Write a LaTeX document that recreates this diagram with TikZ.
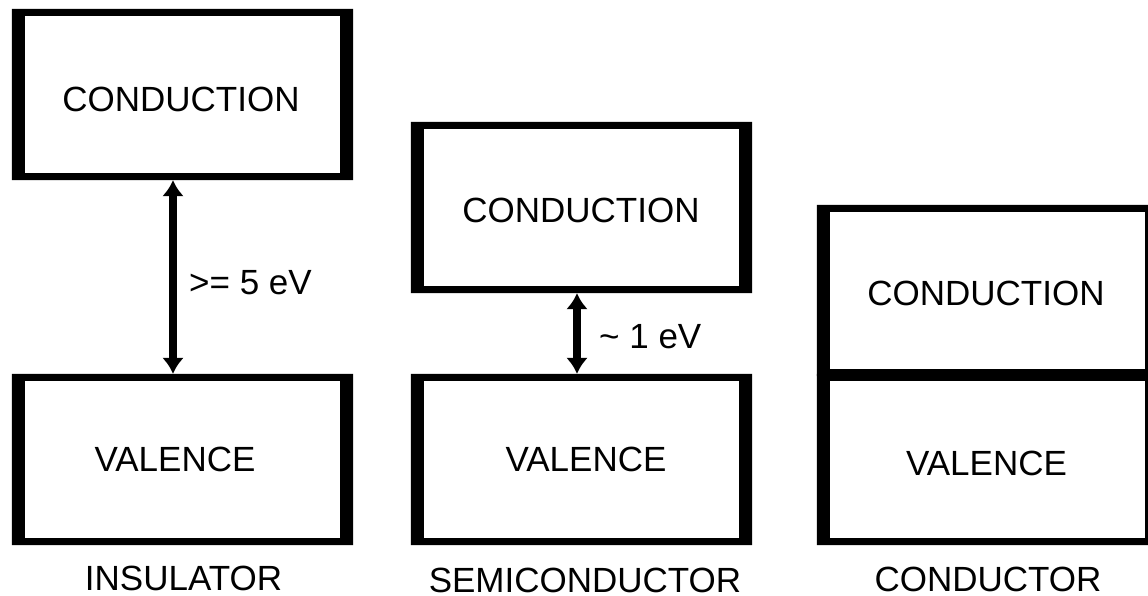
\documentclass[tikz,border=0pt]{standalone}
\usepackage{fontspec}
\setmainfont{Liberation Sans}
\usetikzlibrary{arrows.meta,calc}

% a band: inner area of a framed box; the frame has heavy sides
\tikzset{
  band/.style={draw=none, inner sep=0pt, minimum width=315pt, minimum height=157pt},
  gaparrow/.style={line width=8pt, {Latex[length=16pt,width=22pt]}-{Latex[length=16pt,width=22pt]}},
  caption/.style={inner sep=0pt, font=\fontsize{35}{42}\selectfont},
}
\newcommand\bandframe[1]{%
  \fill[even odd rule] ([shift={(-13pt,7pt)}]#1.north west) rectangle ([shift={(13pt,-7pt)}]#1.south east)
                       (#1.north west) rectangle (#1.south east);}

\begin{document}
\begin{tikzpicture}[x=1pt,y=-1pt]
  \useasboundingbox[fill=white] (0,0) rectangle (1148,595);

  % insulator
  \node[band] (ic) at (182.5,94.5) {};
  \node[band] (iv) at (182.5,459.5) {};
  \bandframe{ic}\bandframe{iv}
  \node[caption] (ict) at (181,99) {CONDUCTION};
  \node[caption] (ivt) at (175,459) {VALENCE};
  \draw[gaparrow] ([shift={(-9.5pt,-7pt)}]ic.south) -- ([shift={(-9.5pt,7pt)}]iv.north);
  \node[caption, anchor=west] (ig) at (189,283) {>= 5 eV};
  \node[caption] (il) at (183.5,578) {INSULATOR};

  % semiconductor
  \node[band] (sc) at (581.5,207.5) {};
  \node[band] (sv) at (581.5,459.5) {};
  \bandframe{sc}\bandframe{sv}
  \node[caption] (sct) at (581,210) {CONDUCTION};
  \node[caption] (svt) at (586,459.5) {VALENCE};
  \draw[gaparrow] ([shift={(-4.5pt,-7pt)}]sc.south) -- ([shift={(-4.5pt,7pt)}]sv.north);
  \node[caption, anchor=west] (sg) at (599,337) {\textasciitilde{} 1 eV};
  \node[caption] (sl) at (585,580) {SEMICONDUCTOR};

  % conductor
  \node[band] (cc) at (987.5,290.5) {};
  \node[band] (cv) at (987.5,459.5) {};
  \bandframe{cc}\bandframe{cv}
  \node[caption] (cct) at (986,293.5) {CONDUCTION};
  \node[caption] (cvt) at (986.5,463) {VALENCE};
  \node[caption] (cl) at (988,579) {CONDUCTOR};
\end{tikzpicture}
\end{document}
